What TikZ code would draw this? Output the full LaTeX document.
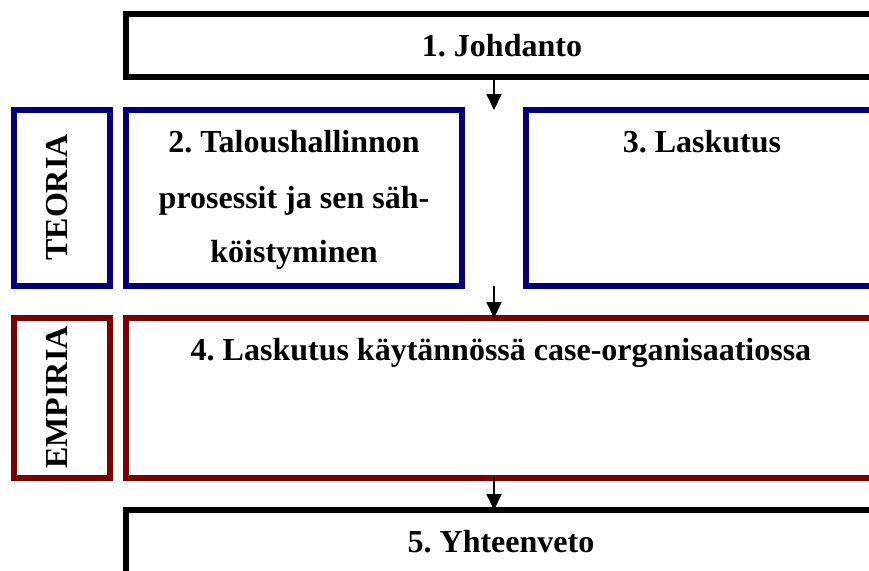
\documentclass[tikz,border=0pt]{standalone}
\usepackage{fontspec}
\setmainfont{Liberation Serif}
\frenchspacing
\usetikzlibrary{arrows.meta}
\definecolor{navyc}{HTML}{000080}
\definecolor{maroonc}{HTML}{800000}
\tikzset{
  boxbase/.style={draw, line width=6pt, anchor=north west, inner sep=0pt, outer sep=0pt},
  blackbox/.style={boxbase, draw=black},
  bluebox/.style={boxbase, draw=navyc},
  redbox/.style={boxbase, draw=maroonc},
  lbl/.style={font=\fontsize{32}{38}\bfseries\selectfont, inner sep=0pt, anchor=base},
  arr/.style={line width=2pt, -{Triangle[width=15pt,length=16pt]}}
}
\begin{document}
\begin{tikzpicture}[x=1pt,y=-1pt]
\useasboundingbox (0,0) rectangle (869,570);
% boxes (path coordinates are line centers)
\node[blackbox, minimum width=752pt, minimum height=63.5pt] (b1) at (126,13.5) {};
\node[bluebox, minimum width=96pt, minimum height=175.5pt] (teo) at (14,110) {};
\node[bluebox, minimum width=336pt, minimum height=175.5pt] (b2) at (126,110) {};
\node[bluebox, minimum width=352pt, minimum height=175.5pt] (b3) at (526,110) {};
\node[redbox, minimum width=96pt, minimum height=159.5pt] (emp) at (14,318) {};
\node[redbox, minimum width=752pt, minimum height=159.5pt] (b4) at (126,318) {};
\node[blackbox, minimum width=752pt, minimum height=100pt] (b5) at (126,510) {};
% texts
\node[lbl] (t1) at (502,56) {1. Johdanto};
\node[lbl] (t2a) at (294,152) {2. Taloushallinnon};
\node[lbl] (t2b) at (294,208) {prosessit ja sen säh-};
\node[lbl] (t2c) at (294,262) {köistyminen};
\node[lbl] (t3) at (702,152) {3. Laskutus};
\node[lbl] (t4) at (501,360) {4. Laskutus käytännössä case-organisaatiossa};
\node[lbl] (t5) at (501,552) {5. Yhteenveto};
\node[lbl, rotate=90] (tteo) at (67,197.5) {TEORIA};
\node[lbl, rotate=90] (temp) at (67,397.5) {EMPIRIA};
% arrows
\coordinate (col) at (494,0);
\draw[arr] (b1.south -| col) -- (b2.north -| col);
\draw[arr] (b2.south -| col) -- (b4.north -| col);
\draw[arr] (b4.south -| col) -- (b5.north -| col);
\end{tikzpicture}
\end{document}
